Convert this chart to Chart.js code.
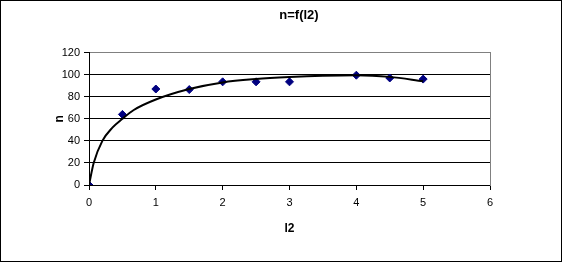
<!DOCTYPE html>
<html>
<head>
<meta charset="utf-8">
<script src="https://cdn.jsdelivr.net/npm/chart.js@4"></script>
<style>
  body { margin: 0; background: #fff; }
  #wrap { width: 560px; height: 260px; border: 1px solid #000; }
</style>
</head>
<body>
<div id="wrap"><canvas id="chart" width="560" height="260"></canvas></div>
<script>
// measured points
const l2Values = [0, 0.5, 1, 1.5, 2, 2.5, 3, 4, 4.5, 5];
const nValues = [0, 64, 87, 86.5, 93.5, 93.5, 93.5, 99.5, 97, 96];

// the smooth black curve
const curveX = [0, 0.07, 0.2, 0.35, 0.5, 0.67, 1, 1.5, 2, 2.5, 3, 3.5, 4, 4.5, 5];
const curveY = [0, 20, 40, 52, 60, 68, 77.5, 87, 93, 96, 97.8, 99, 99.5, 98, 94];

const xTicks = [0, 1, 2, 3, 4, 5, 6];
const yTicks = [0, 20, 40, 60, 80, 100, 120];

const font = { family: 'Liberation Sans, Arial, sans-serif', size: 11 };
const boldFont = { family: font.family, size: 12, weight: 'bold' };

new Chart(document.getElementById('chart'), {
    type: 'scatter',
    data: {
        datasets: [
            {
                label: 'curve',
                data: curveX.map((x, i) => ({ x: x, y: curveY[i] })),
                showLine: true,
                borderColor: '#000',
                borderWidth: 2,
                pointRadius: 0,
                cubicInterpolationMode: 'monotone',
                fill: false
            },
            {
                label: 'n',
                data: l2Values.map((x, i) => ({ x: x, y: nValues[i] })),
                pointStyle: 'rectRot',
                pointRadius: 4,
                backgroundColor: '#000080',
                borderColor: '#000080'
            }
        ]
    },
    options: {
        responsive: false,
        animation: false,
        layout: { padding: { left: 36, right: 0, top: 0, bottom: 0 } },
        plugins: {
            legend: { display: false },
            tooltip: { enabled: false },
            title: {
                display: true,
                text: 'n=f(l2)',
                color: '#000',
                font: { family: font.family, size: 13, weight: 'bold' },
                padding: { top: 7, bottom: 29 }
            }
        },
        scales: {
            x: {
                type: 'linear',
                min: 0,
                max: 6,
                afterBuildTicks: axis => { axis.ticks = xTicks.map(v => ({ value: v })); },
                afterFit: axis => { axis.height = 76; },
                grid: { drawOnChartArea: false, drawTicks: true, tickLength: 5, color: '#000' },
                border: { color: '#000', width: 1 },
                ticks: { color: '#000', font: font, padding: 6 },
                title: {
                    display: true,
                    text: 'l2',
                    color: '#000',
                    font: boldFont,
                    padding: { top: 0, bottom: 25 }
                }
            },
            y: {
                min: 0,
                max: 120,
                afterBuildTicks: axis => { axis.ticks = yTicks.map(v => ({ value: v })); },
                afterFit: axis => { axis.width = 52; },
                grid: {
                    color: c => (c.tick && c.tick.value === 120 ? '#808080' : '#000'),
                    tickColor: '#000',
                    tickLength: 5
                },
                border: { color: '#000', width: 1 },
                ticks: { color: '#000', font: font, padding: 4 },
                title: {
                    display: true,
                    text: 'n',
                    color: '#000',
                    font: boldFont,
                    padding: { top: 15, bottom: 0 }
                }
            },
            // empty right axis: grey right edge of the plot and the white margin
            y2: {
                position: 'right',
                min: 0,
                max: 120,
                afterFit: axis => { axis.width = 71; },
                grid: { drawOnChartArea: false, drawTicks: false },
                border: { color: '#808080', width: 1 },
                ticks: { display: false }
            }
        }
    }
});
</script>
</body>
</html>
